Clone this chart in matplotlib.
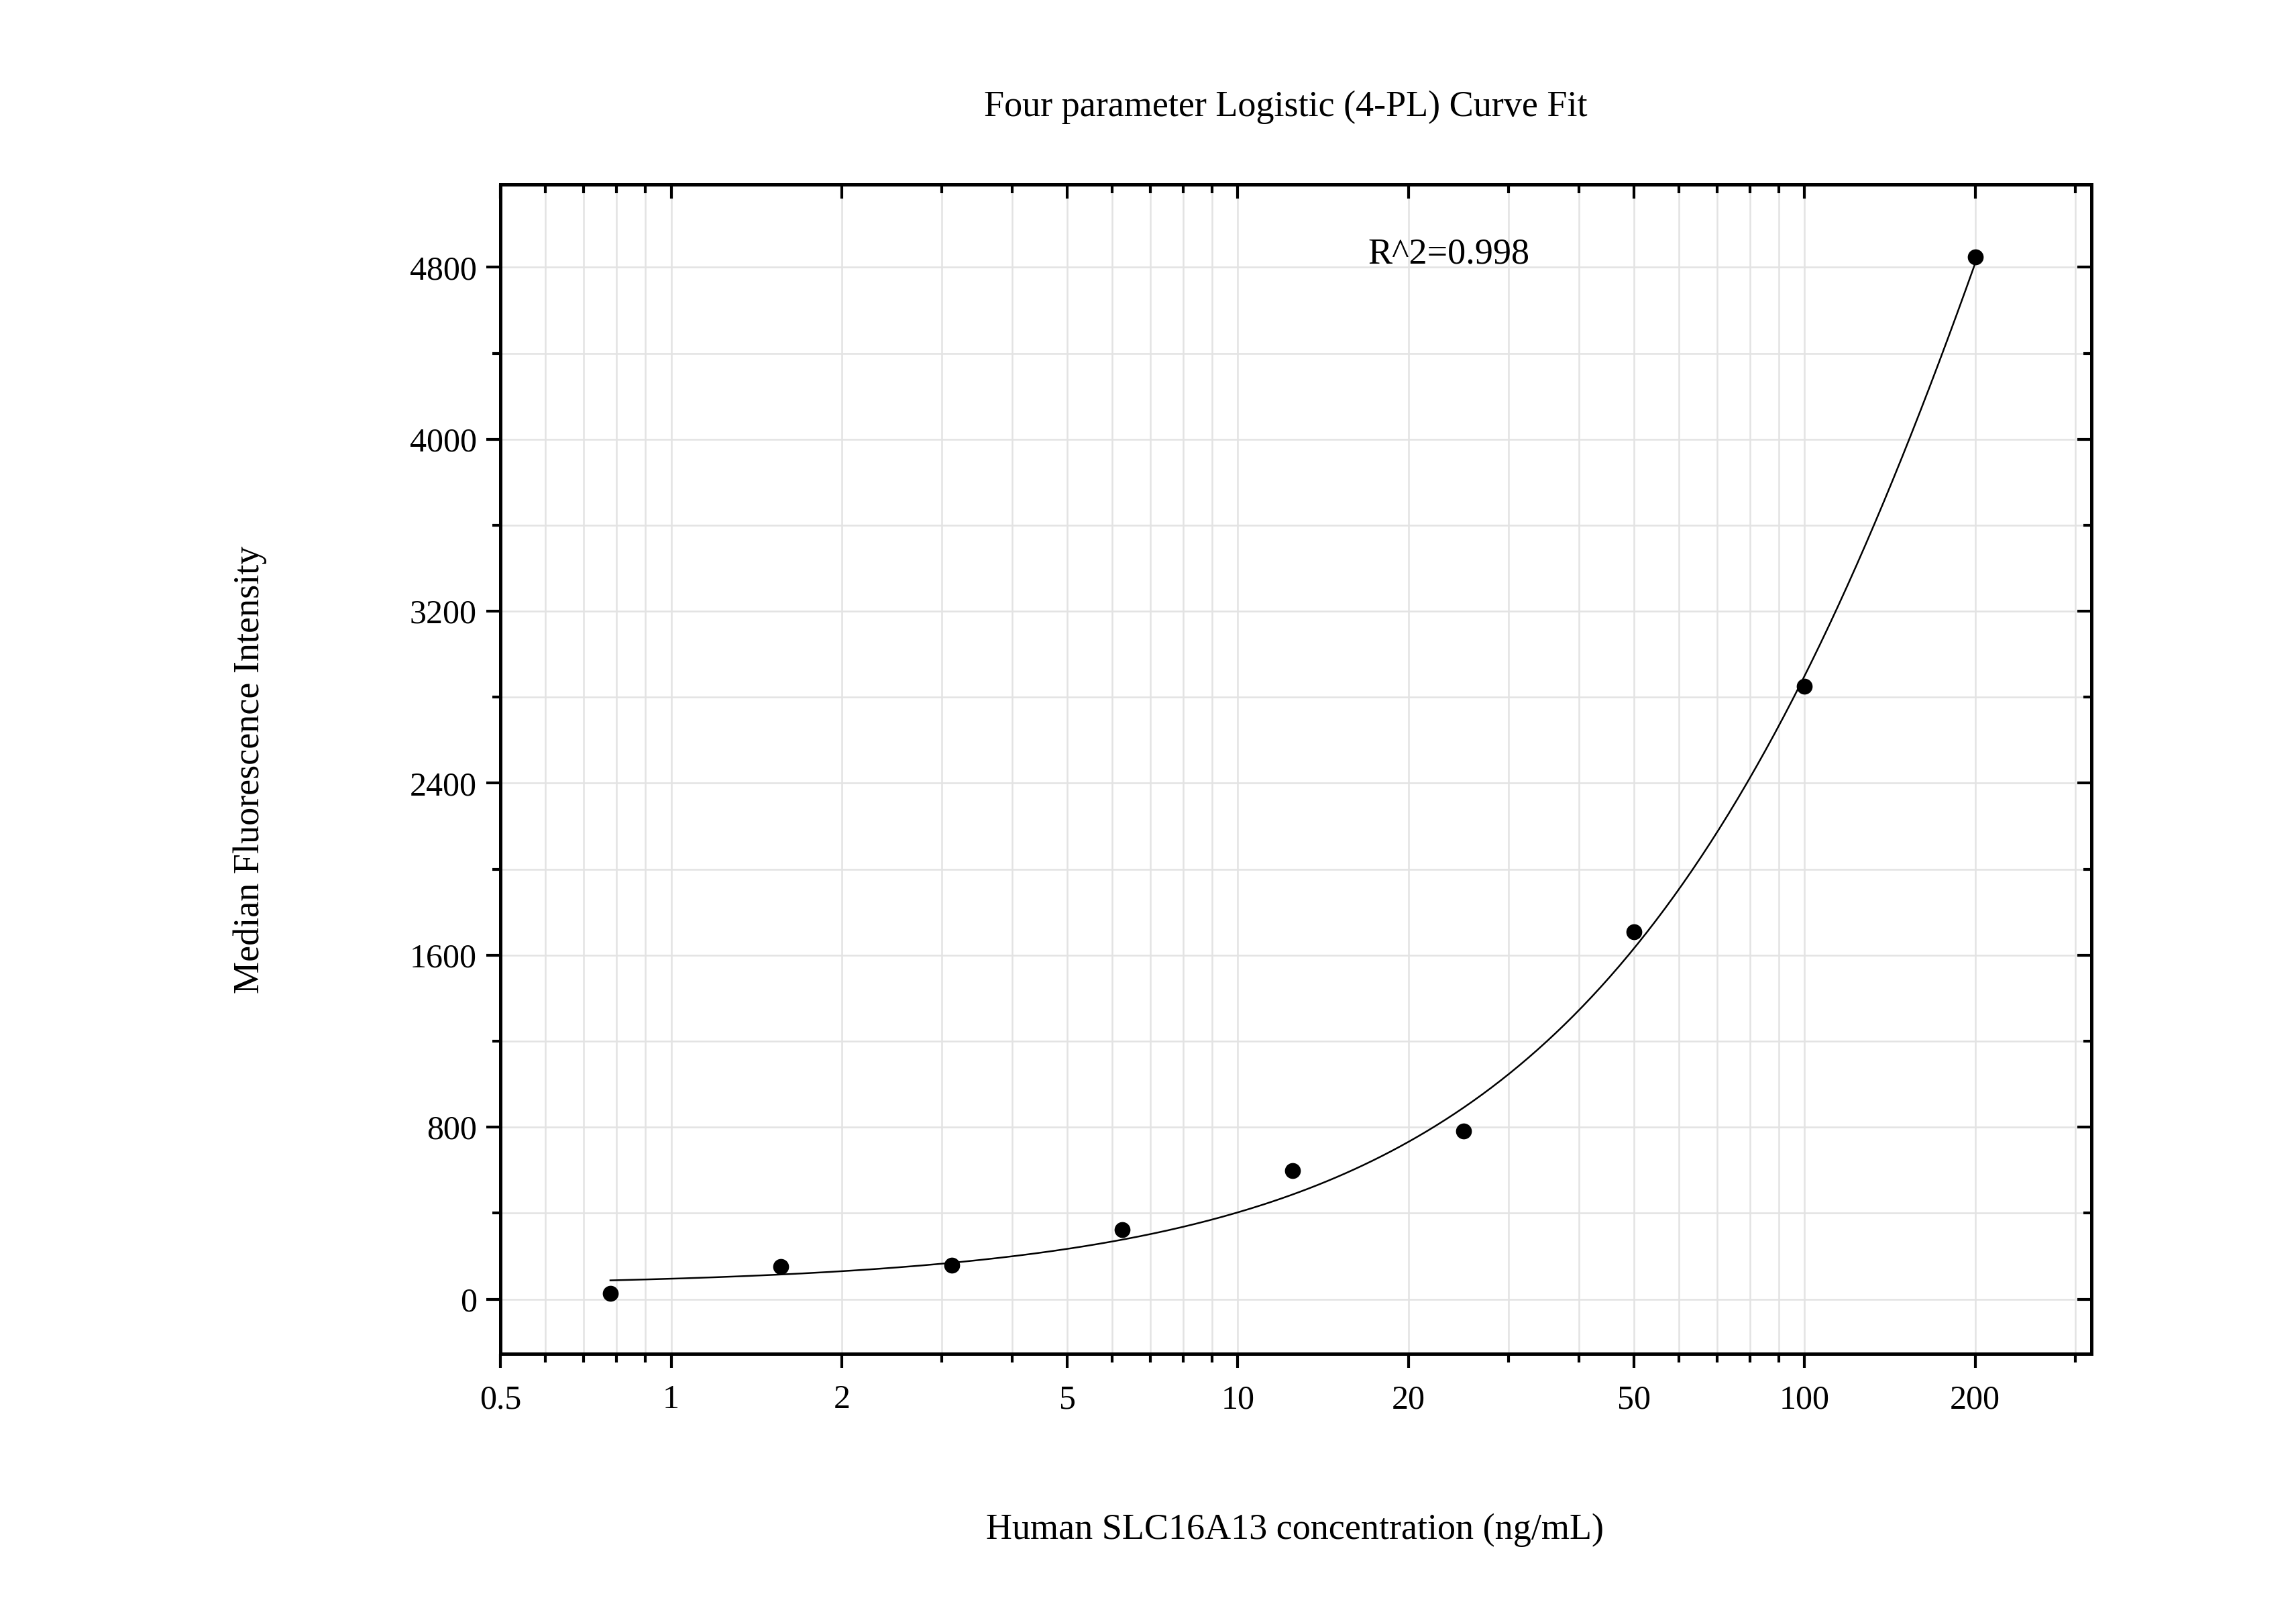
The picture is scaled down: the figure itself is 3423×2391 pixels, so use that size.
import numpy as np
import matplotlib.pyplot as plt
from matplotlib.ticker import FixedLocator, NullFormatter, LogLocator, MultipleLocator

plt.rcParams['font.family'] = 'Liberation Serif'

# measured standards
conc = [0.78125, 1.5625, 3.125, 6.25, 12.5, 25, 50, 100, 200]
mfi = [27, 151, 158, 323, 597, 783, 1710, 2850, 4848]

# 4-PL curve parameters (estimated from the fitted line)
A, B, C, D = 60, 1.0, 417, 14740

def four_pl(x):
    return D + (A - D) / (1 + (x / C) ** B)

fig = plt.figure(figsize=(3423 / 300, 2391 / 300), dpi=300)
ax = fig.add_axes([0.218, 0.156, 0.693, 0.729])

xs = np.logspace(np.log10(conc[0]), np.log10(conc[-1]), 300)
ax.plot(xs, four_pl(xs), color='black', lw=0.6)
ax.scatter(conc, mfi, s=22, color='black', zorder=3)

ax.set_xscale('log')
ax.set_xlim(0.5, 321)
ax.set_ylim(-254, 5185)
xt = [0.5, 1, 2, 5, 10, 20, 50, 100, 200]
ax.xaxis.set_major_locator(FixedLocator(xt))
ax.set_xticklabels(['0.5', '1', '2', '5', '10', '20', '50', '100', '200'])
ax.xaxis.set_minor_locator(LogLocator(base=10, subs=np.arange(1, 10)))
ax.xaxis.set_minor_formatter(NullFormatter())
ax.yaxis.set_major_locator(MultipleLocator(800))
ax.yaxis.set_minor_locator(MultipleLocator(400))

ax.grid(True, which='both', color='#e3e3e3', lw=0.6)
ax.set_axisbelow(True)
for s in ax.spines.values():
    s.set_linewidth(1.2)
ax.tick_params(which='both', direction='out', labelsize=12, width=1.0,
               top=False, right=False)
ax.tick_params(which='major', length=5)
ax.tick_params(which='minor', length=3)
ax.tick_params(axis='x', which='major', pad=6)

# inward ticks on top and right
axt = ax.twiny()
axt.set_xscale('log')
axt.set_xlim(ax.get_xlim())
axt.xaxis.set_major_locator(FixedLocator(xt))
axt.xaxis.set_minor_locator(LogLocator(base=10, subs=np.arange(1, 10)))
axt.xaxis.set_major_formatter(NullFormatter())
axt.xaxis.set_minor_formatter(NullFormatter())
axt.tick_params(which='both', direction='in', labeltop=False, width=1.0)
axt.tick_params(which='major', length=5)
axt.tick_params(which='minor', length=3)
axr = ax.twinx()
axr.set_ylim(ax.get_ylim())
axr.yaxis.set_major_locator(MultipleLocator(800))
axr.yaxis.set_minor_locator(MultipleLocator(400))
axr.tick_params(which='both', direction='in', labelright=False, width=1.0)
axr.tick_params(which='major', length=5)
axr.tick_params(which='minor', length=3)

ax.text(0.545, 0.94, 'R^2=0.998', transform=ax.transAxes, fontsize=13, va='center')
fig.text(0.56, 0.933, 'Four parameter Logistic (4-PL) Curve Fit', ha='center', va='center', fontsize=13)
fig.text(0.564, 0.046, 'Human SLC16A13 concentration (ng/mL)', ha='center', va='center', fontsize=13)
fig.text(0.109, 0.52, 'Median Fluorescence Intensity', ha='center', va='center', fontsize=13, rotation=90)

fig.savefig('out.png', dpi=300)
